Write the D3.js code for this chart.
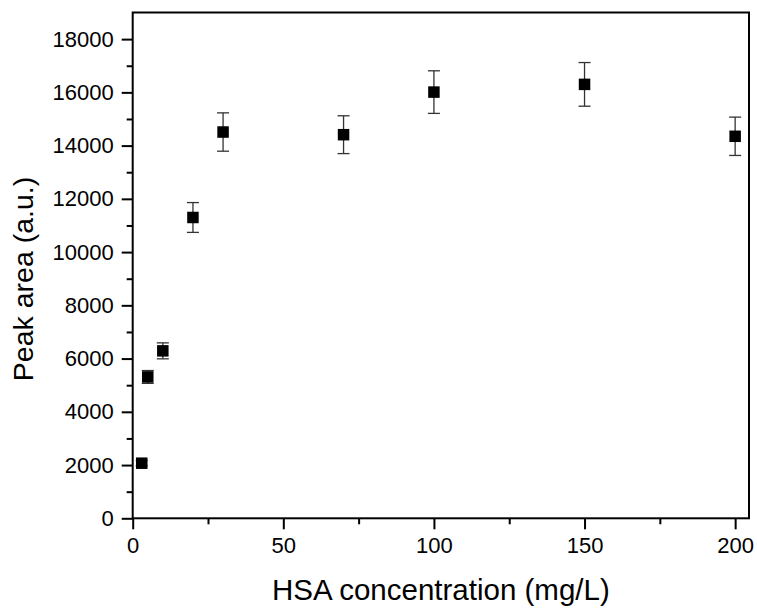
<!DOCTYPE html>
<html>
<head>
<meta charset="utf-8">
<script src="https://cdn.jsdelivr.net/npm/d3@7"></script>
<style>
  html, body { margin: 0; padding: 0; background: #fff; }
  svg { display: block; font-family: "Liberation Sans", Arial, sans-serif; }
</style>
</head>
<body>
<div class="chart"></div>
<script>

////////// DATA //////////

var concentrations = [3, 5, 10, 20, 30, 70, 100, 150, 200];
var peakAreas = [2070, 5310, 6290, 11300, 14510, 14410, 16010, 16300, 14350];
var errors = [100, 240, 300, 560, 720, 710, 800, 820, 720];

var xTicks = [0, 50, 100, 150, 200];
var yTicks = [0, 2000, 4000, 6000, 8000, 10000, 12000, 14000, 16000, 18000];


////////// SETUP //////////

var width = 757, height = 608;
var plot = { left: 132.7, right: 749, top: 12.5, bottom: 518.3 };

var data = concentrations.map(function(c, i) {
  return { x: c, y: peakAreas[i], err: errors[i] };
});

var x = d3.scaleLinear()
    .domain([0, 204.6])
    .range([plot.left, plot.right]);

var y = d3.scaleLinear()
    .domain([0, 19000])
    .range([plot.bottom, plot.top]);

var svg = d3.select(".chart")
    .append("svg")
    .attr("width", width)
    .attr("height", height);


////////// AXES //////////

var xMinor = d3.range(25, 205, 50);
var yMinor = d3.range(1000, 19000, 2000);

var xAxis = svg.append("g")
    .attr("transform", "translate(0," + plot.bottom + ")")
    .call(d3.axisBottom(x).tickValues(xTicks).tickSize(11).tickPadding(8).tickFormat(d3.format("d")));

var xAxisMinor = svg.append("g")
    .attr("transform", "translate(0," + plot.bottom + ")")
    .call(d3.axisBottom(x).tickValues(xMinor).tickSize(6).tickFormat(""));

var yAxis = svg.append("g")
    .attr("transform", "translate(" + plot.left + ",0)")
    .call(d3.axisLeft(y).tickValues(yTicks).tickSize(11).tickPadding(8).tickFormat(d3.format("d")));

var yAxisMinor = svg.append("g")
    .attr("transform", "translate(" + plot.left + ",0)")
    .call(d3.axisLeft(y).tickValues(yMinor).tickSize(6).tickFormat(""));

svg.selectAll(".domain").remove();
svg.selectAll(".tick line")
    .attr("stroke", "#000")
    .attr("stroke-width", 2);
svg.selectAll(".tick text")
    .attr("fill", "#000")
    .style("font-size", "22px");

// frame round the plot
svg.append("rect")
    .attr("x", plot.left)
    .attr("y", plot.top)
    .attr("width", plot.right - plot.left)
    .attr("height", plot.bottom - plot.top)
    .attr("fill", "none")
    .attr("stroke", "#000")
    .attr("stroke-width", 2);


////////// AXIS TITLES //////////

svg.append("text")
    .attr("x", (plot.left + plot.right) / 2)
    .attr("y", 600)
    .attr("text-anchor", "middle")
    .style("font-size", "29.5px")
    .text("HSA concentration (mg/L)");

svg.append("text")
    .attr("transform", "translate(33,279) rotate(-90)")
    .attr("text-anchor", "middle")
    .style("font-size", "28.5px")
    .text("Peak area (a.u.)");


////////// ERROR BARS + POINTS //////////

var cap = 6;

var bars = svg.append("g")
    .attr("class", "errorbars")
    .attr("stroke", "#333")
    .attr("stroke-width", 1.3);

bars.selectAll(".stem")
    .data(data)
    .enter()
    .append("line")
    .attr("x1", function(d) { return x(d.x); })
    .attr("x2", function(d) { return x(d.x); })
    .attr("y1", function(d) { return y(d.y + d.err); })
    .attr("y2", function(d) { return y(d.y - d.err); });

bars.selectAll(".capTop")
    .data(data)
    .enter()
    .append("line")
    .attr("x1", function(d) { return x(d.x) - cap; })
    .attr("x2", function(d) { return x(d.x) + cap; })
    .attr("y1", function(d) { return y(d.y + d.err); })
    .attr("y2", function(d) { return y(d.y + d.err); });

bars.selectAll(".capBottom")
    .data(data)
    .enter()
    .append("line")
    .attr("x1", function(d) { return x(d.x) - cap; })
    .attr("x2", function(d) { return x(d.x) + cap; })
    .attr("y1", function(d) { return y(d.y - d.err); })
    .attr("y2", function(d) { return y(d.y - d.err); });

var size = 11.5;

svg.append("g")
    .attr("class", "points")
  .selectAll("rect")
    .data(data)
    .enter()
    .append("rect")
    .attr("x", function(d) { return x(d.x) - size / 2; })
    .attr("y", function(d) { return y(d.y) - size / 2; })
    .attr("width", size)
    .attr("height", size)
    .attr("fill", "#000");

</script>
</body>
</html>
